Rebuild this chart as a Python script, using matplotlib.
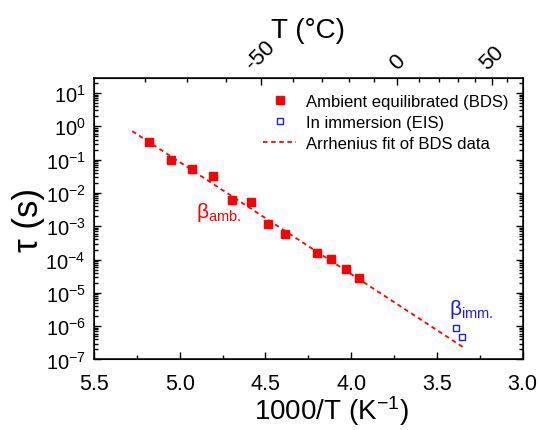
import matplotlib
matplotlib.use("Agg")
import matplotlib.pyplot as plt
from matplotlib.ticker import LogLocator, NullFormatter, MultipleLocator, FixedLocator
import numpy as np

plt.rcParams['font.family'] = ['Liberation Sans', 'DejaVu Sans']
plt.rcParams['mathtext.fontset'] = 'custom'
plt.rcParams['mathtext.rm'] = 'Liberation Sans'
plt.rcParams['mathtext.it'] = 'Liberation Sans:italic'
plt.rcParams['mathtext.default'] = 'regular'

# relaxation times vs inverse temperature
inv_T_bds = [5.178, 5.049, 4.929, 4.806, 4.694, 4.585, 4.484, 4.386, 4.201, 4.118, 4.031, 3.955]
tau_bds = [0.336, 0.099, 0.051, 0.0315, 0.0060, 0.0055, 1.16e-3, 5.7e-4, 1.54e-4, 1.02e-4, 5.1e-5, 2.8e-5]
inv_T_eis = [3.389, 3.356]
tau_eis = [8.8e-7, 4.7e-7]

# Arrhenius fit: log10(tau) = a + b * 1000/T
fit_a = -17.886
fit_b = 3.362
fit_range = [5.277, 3.347]

# top axis temperatures in Celsius
T_major = [-50, 0, 50]
T_minor = [-80, -70, -60, -40, -30, -20, -10, 10, 20, 30, 40, 60]

red = '#ff0000'
blue = '#1a1aff'

fig = plt.figure(figsize=(5.39, 4.31), dpi=100)
ax = fig.add_axes([0.1744, 0.1636, 0.7954, 0.6531])

xf = np.linspace(fit_range[0], fit_range[1], 50)
ax.plot(xf, 10 ** (fit_a + fit_b * xf), ls=(0, (2.5, 2.0)), color=red, lw=1.3,
        label='Arrhenius fit of BDS data', zorder=2)
ax.plot(inv_T_bds, tau_bds, 's', color=red, ms=5.5, ls='none',
        label='Ambient equilibrated (BDS)', zorder=3)
ax.plot(inv_T_eis, tau_eis, 's', mfc='white', mec=blue, mew=1.0, ms=5, ls='none',
        label='In immersion (EIS)', zorder=3)

ax.set_yscale('log')
ax.set_xlim(5.5, 3.0)
ax.set_ylim(1e-7, 10 ** 1.45)
ax.xaxis.set_major_locator(MultipleLocator(0.5))
ax.xaxis.set_minor_locator(MultipleLocator(0.25))
ax.xaxis.set_major_formatter(plt.FuncFormatter(lambda v, p: f'{v:.1f}'))
ax.yaxis.set_major_locator(LogLocator(base=10, numticks=20))
ax.yaxis.set_minor_locator(LogLocator(base=10, subs=np.arange(2, 10), numticks=20))
ax.yaxis.set_minor_formatter(NullFormatter())

ax.tick_params(which='both', direction='in', width=1.0, right=True, top=False)
ax.tick_params(which='major', length=5)
ax.tick_params(which='minor', length=3)
ax.tick_params(axis='x', pad=10, labelsize=15.5)
ax.tick_params(axis='y', pad=6, labelsize=14.5)
for s in ax.spines.values():
    s.set_linewidth(1.1)

ax.set_xlabel('1000/T (K$^{-1}$)', fontsize=20)
ax.xaxis.set_label_coords(0.553, -0.118, transform=ax.transAxes)
ax.set_ylabel('τ (s)', fontsize=25, labelpad=0)

ax.text(4.905, 10 ** -2.56, r'β$_{\rm amb.}$', color=red, fontsize=15, ha='left', va='center')
ax.text(3.43, 10 ** -5.46, r'β$_{\rm imm.}$', color=blue, fontsize=15, ha='left', va='center')

handles, labels = ax.get_legend_handles_labels()
order = [1, 2, 0]
ax.legend([handles[i] for i in order], [labels[i] for i in order], loc='upper right',
          frameon=False, fontsize=12, handlelength=2.0, handletextpad=0.6,
          labelspacing=0.35, borderaxespad=0.3, bbox_to_anchor=(0.995, 0.985))

# top axis in Celsius
ax2 = ax.twiny()
ax2.set_xlim(5.484, 2.908)
ax2.xaxis.set_major_locator(FixedLocator([1000 / (t + 273.15) for t in T_major]))
ax2.xaxis.set_minor_locator(FixedLocator([1000 / (t + 273.15) for t in T_minor]))
ax2.set_xticklabels([str(t) for t in T_major], rotation=45, ha='center', va='bottom')
ax2.tick_params(which='both', direction='in', width=1.0, labelsize=16)
ax2.tick_params(which='major', length=5)
ax2.tick_params(which='minor', length=3)
ax2.set_xlabel('T (°C)', fontsize=20, labelpad=-1)

fig.savefig('out.png', dpi=100)
